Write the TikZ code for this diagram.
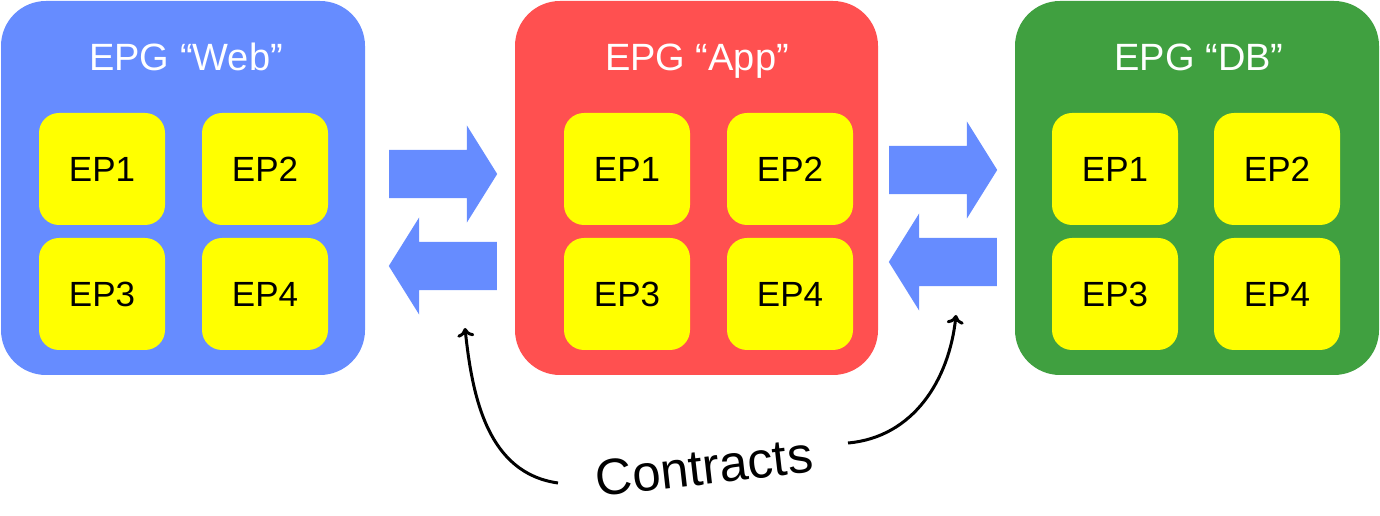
\documentclass[tikz,border=0pt]{standalone}
\usepackage{fontspec}
\setmainfont{Liberation Sans}
\usetikzlibrary{shapes.arrows, arrows.meta}
\definecolor{webblue}{HTML}{668CFF}
\definecolor{appred}{HTML}{FF5050}
\definecolor{dbgreen}{HTML}{40A040}
\definecolor{epyellow}{HTML}{FFFF00}
\begin{document}
\begin{tikzpicture}[x=1pt, y=1pt]
        \tikzstyle{epg}=[rectangle, rounded corners=45pt, minimum width=364pt, minimum height=374pt, inner sep=0pt]
        \tikzstyle{epgtitle}=[text=white, anchor=base, font=\fontsize{38}{40}\selectfont]
        \tikzstyle{ep}=[rectangle, fill=epyellow, rounded corners=20pt, minimum width=126pt, minimum height=112pt, inner sep=0pt, font=\fontsize{35}{40}\selectfont]
        \tikzstyle{flow}=[single arrow, fill=webblue, anchor=tail, inner xsep=0pt, inner ysep=24pt, minimum height=108pt, single arrow head extend=24.5pt, single arrow tip angle=116]
        \tikzstyle{contract}=[line width=3pt, -{To[length=9pt, width=17pt, line width=3pt]}]
        \useasboundingbox (0,0) rectangle (1380,516);
        % EPG Web
        \node[epg, fill=webblue] (web) at (183,328) {};
        \node[epgtitle] (webtitle) at (186,445) {EPG “Web”};
        \node[ep] (web1) at (102,347) {EP1};
        \node[ep] (web2) at (265,347) {EP2};
        \node[ep] (web3) at (102,222) {EP3};
        \node[ep] (web4) at (265,222) {EP4};
        % EPG App
        \node[epg, fill=appred, minimum width=363pt] (app) at (696.5,328) {};
        \node[epgtitle] (apptitle) at (697,445) {EPG “App”};
        \node[ep] (app1) at (627,347) {EP1};
        \node[ep] (app2) at (790,347) {EP2};
        \node[ep] (app3) at (627,222) {EP3};
        \node[ep] (app4) at (790,222) {EP4};
        % EPG DB
        \node[epg, fill=dbgreen] (db) at (1197,328) {};
        \node[epgtitle] (dbtitle) at (1199,445) {EPG “DB”};
        \node[ep] (db1) at (1115,347) {EP1};
        \node[ep] (db2) at (1277,347) {EP2};
        \node[ep] (db3) at (1115,222) {EP3};
        \node[ep] (db4) at (1277,222) {EP4};
        % traffic between the groups
        \node[flow] (webapp) at (389,342) {};
        \node[flow, shape border rotate=180] (appweb) at (497,250) {};
        \node[flow] (appdb) at (889,346) {};
        \node[flow, shape border rotate=180] (dbapp) at (997,254) {};
        % Contracts
        \node[rotate=6.5, font=\fontsize{51}{56}\selectfont] (contracts) at (704,49) {Contracts};
        \coordinate (leftstart) at (558,33);
        \coordinate (lefttip) at (465,188);
        \coordinate (rightstart) at (848,73);
        \coordinate (righttip) at (956,201);
        \draw[contract] (leftstart) to[out=172, in=-84] (lefttip);
        \draw[contract] (rightstart) to[out=5, in=-96] (righttip);
\end{tikzpicture}
\end{document}
